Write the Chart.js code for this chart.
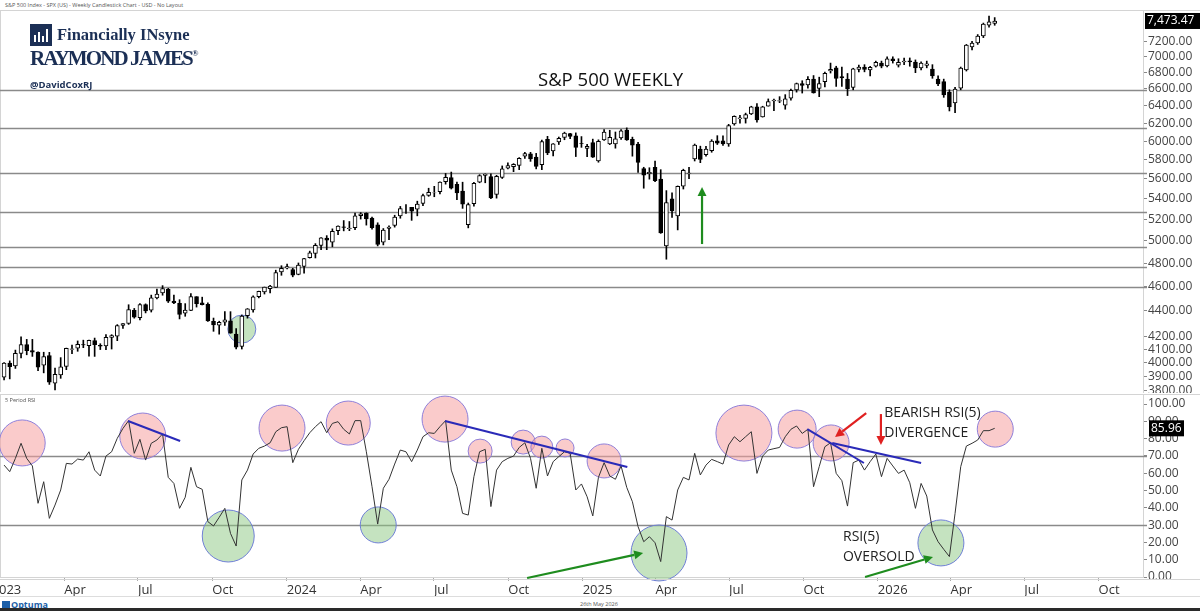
<!DOCTYPE html>
<html lang="en">
<head>
<meta charset="UTF-8">
<title>S&amp;P 500 Weekly</title>
<script src="https://cdn.jsdelivr.net/npm/chart.js"></script>
<style>
  body { margin: 0; width: 1200px; height: 611px; position: relative; overflow: hidden; background: #fff; font-family: "Open Sans", sans-serif; }
  #priceWrap { position: absolute; left: 0; top: 0; width: 1200px; height: 393px; }
  #rsiWrap { position: absolute; left: 0; top: 393px; width: 1200px; height: 203px; }
  .hdr { position: absolute; left: 5px; top: 1px; font-size: 5.5px; color: #555; white-space: nowrap; }
  .logo { position: absolute; left: 30px; top: 24px; color: #1b2f55; }
  .logo .fi { position: absolute; left: 27px; top: 1px; font: bold 16.5px "Liberation Serif", serif; white-space: nowrap; }
  .logo .rj { position: absolute; left: 0; top: 22px; font: bold 21px "Liberation Serif", serif; letter-spacing: -1.9px; white-space: nowrap; }
  .logo .rj sup { font-size: 9px; letter-spacing: 0; vertical-align: 9px; }
  .logo .tw { position: absolute; left: 0; top: 54px; font: bold 9.5px "Open Sans", sans-serif; white-space: nowrap; }
  .title { position: absolute; left: 538px; top: 66px; font-size: 18.5px; color: #111; white-space: nowrap; }
  .panelTag { position: absolute; left: 5px; top: 396px; font-size: 5.5px; color: #555; }
  .footer { position: absolute; left: 0; top: 596px; width: 1200px; height: 11px; border-top: 1px solid #ddd; }
  .optuma { position: absolute; left: 2px; top: 1px; font: bold 9px "Open Sans", sans-serif; color: #1d5fa8; white-space: nowrap; }
  .optuma span { display: inline-block; width: 8px; height: 8px; background: #1d5fa8; margin-right: 1px; vertical-align: -1px; }
  .date { position: absolute; left: 580px; top: 3px; font-size: 5.5px; color: #555; }
  .bottomBar { position: absolute; left: 0; top: 608px; width: 1200px; height: 3px; background: #2a2a2a; }
</style>
</head>
<body>
<div class="hdr">S&amp;P 500 Index - SPX (US) - Weekly Candlestick Chart - USD - No Layout</div>
<div id="priceWrap"><canvas id="price"></canvas></div>
<div id="rsiWrap"><canvas id="rsi"></canvas></div>

<div class="logo">
  <svg width="22" height="22" style="position:absolute;left:0;top:0">
    <rect width="22" height="22" fill="#1b2f55"/>
    <rect x="4" y="11" width="2" height="7" fill="#fff"/>
    <rect x="8" y="8" width="2" height="10" fill="#fff"/>
    <rect x="12" y="12" width="2" height="6" fill="#fff"/>
    <rect x="16" y="5" width="2" height="13" fill="#fff"/>
  </svg>
  <div class="fi">Financially INsyne</div>
  <div class="rj">RAYMOND JAMES<sup>®</sup></div>
  <div class="tw">@DavidCoxRJ</div>
</div>
<div class="title">S&amp;P 500 WEEKLY</div>
<div class="panelTag">5 Period RSI</div>
<div class="footer">
  <div class="optuma"><span></span>Optuma</div>
  <div class="date">26th May 2026</div>
</div>
<div class="bottomBar"></div>

<script>
// weekly candles, first one is the week ending 13 Jan 2023
const firstWeek = '2023-01-13';

const opens = [
  3897,3999,3979,4071,4137,4091,4080,3983,4055,3855,
  3914,3975,4100,4110,4136,4128,4166,4130,4126,4190,
  4200,4283,4300,4404,4345,4450,4405,4505,4547,4578,
  4479,4460,4380,4403,4515,4464,4453,4316,4285,4310,
  4320,4217,4122,4361,4406,4515,4555,4581,4593,4725,
  4758,4745,4703,4772,4848,4886,4958,5026,4989,5094,
  5130,5112,5123,5235,5258,5212,5149,4988,5115,5142,
  5233,5305,5315,5297,5353,5432,5459,5471,5572,5614,
  5544,5476,5151,5351,5566,5636,5623,5442,5615,5711,
  5727,5738,5838,5863,5827,5746,6020,5893,5992,6040,
  6082,6058,5974,5920,5983,5788,6014,5969,5970,6036,
  6122,6020,5968,5705,5653,5718,5597,4953,5400,5233,
  5525,5655,5807,5914,5854,5897,6004,6004,5970,6193,
  6250,6255,6306,6389,6271,6397,6458,6455,6407,6490,
  6590,6664,6648,6722,6606,6690,6820,6860,6750,6720,
  6620,6840,6870,6835,6880,6921,6885,6975,6895,6935,
  6950,6934,6858,6890,6845,6721,6690,6564,6433,6611,
  6833,7127,7179,7271,7418,7440
];
const highs = [
  4003,4015,4095,4195,4176,4176,4082,4079,4078,3962,
  4039,4110,4133,4164,4170,4170,4186,4143,4212,4212,
  4290,4299,4449,4419,4458,4456,4528,4578,4607,4584,
  4528,4490,4458,4541,4515,4511,4465,4342,4317,4393,
  4393,4259,4366,4418,4521,4561,4595,4610,4739,4778,
  4793,4755,4802,4842,4907,4975,5030,5048,5111,5140,
  5189,5180,5261,5265,5263,5222,5168,5114,5139,5240,
  5325,5342,5315,5376,5447,5505,5524,5570,5656,5670,
  5566,5566,5358,5564,5643,5651,5651,5636,5734,5767,
  5758,5822,5878,5878,5867,6012,6053,5972,6045,6099,
  6085,6091,6050,5964,6022,6014,6128,6120,6101,6128,
  6147,6044,5986,5720,5715,5786,5695,5481,5459,5528,
  5700,5720,5968,5945,5944,6016,6060,6059,6187,6284,
  6290,6315,6395,6427,6395,6481,6478,6508,6532,6600,
  6672,6700,6750,6764,6744,6808,6920,6880,6870,6790,
  6855,6895,6900,6880,6945,6945,7000,7000,6975,6985,
  6985,6960,6935,6945,6900,6760,6720,6590,6620,6870,
  7160,7200,7290,7445,7540,7520
];
const lows = [
  3877,3885,3960,4037,4060,4048,3943,3928,3846,3808,
  3889,3951,4069,4086,4113,4049,4048,4099,4098,4103,
  4166,4261,4292,4341,4328,4383,4390,4497,4527,4467,
  4458,4335,4356,4401,4430,4447,4316,4238,4216,4284,
  4223,4104,4103,4341,4389,4505,4537,4546,4593,4695,
  4751,4682,4699,4714,4845,4846,4920,4920,4946,5057,
  5092,5094,5104,5203,5146,5107,4954,4963,5012,5127,
  5211,5257,5191,5234,5331,5424,5420,5448,5546,5497,
  5390,5306,5120,5327,5560,5560,5402,5406,5604,5703,
  5674,5695,5813,5782,5703,5696,5853,5839,5963,6015,
  6026,5833,5932,5833,5823,5773,6007,5962,5923,6020,
  6008,5837,5666,5505,5597,5572,5069,4835,5220,5101,
  5497,5603,5786,5768,5836,5879,5963,5953,5943,6177,
  6201,6201,6298,6212,6269,6396,6343,6437,6360,6467,
  6562,6551,6609,6550,6508,6624,6795,6631,6630,6521,
  6590,6810,6810,6760,6870,6860,6870,6920,6870,6900,
  6880,6800,6835,6860,6730,6640,6500,6340,6320,6590,
  6820,7090,7160,7250,7390,7415
];
const closes = [
  3999,3972,4071,4136,4090,4079,3970,4046,3862,3917,
  3971,4109,4105,4138,4133,4169,4136,4124,4192,4205,
  4282,4299,4410,4348,4450,4399,4505,4536,4582,4478,
  4464,4370,4406,4516,4457,4450,4320,4288,4308,4327,
  4224,4117,4358,4415,4514,4559,4595,4604,4719,4755,
  4770,4697,4784,4840,4891,4959,5027,5006,5089,5137,
  5124,5117,5234,5254,5204,5123,4967,5100,5128,5223,
  5303,5305,5278,5347,5431,5465,5460,5567,5615,5505,
  5459,5346,5344,5554,5634,5648,5408,5626,5703,5738,
  5751,5815,5864,5808,5729,5996,5871,5969,6032,6090,
  6051,5931,5971,5942,5827,5997,6101,6041,6026,6115,
  6013,5955,5770,5639,5667,5581,5074,5363,5283,5525,
  5687,5660,5958,5803,5912,6000,5977,5968,6173,6279,
  6260,6297,6389,6238,6389,6450,6467,6460,6482,6584,
  6664,6644,6716,6553,6664,6792,6840,6729,6734,6603,
  6849,6870,6840,6865,6930,6880,6975,6950,6930,6945,
  6935,6858,6921,6910,6758,6660,6528,6386,6600,6858,
  7152,7179,7271,7432,7462,7473.47
];
const rsi5 = [
  64.7,60.9,68.6,77.3,68.6,64.2,42.6,55.1,33.9,41.6,
  50.3,65.7,65.3,68.2,67.6,72.4,61.8,58.4,69.9,72.4,
  80.2,85.9,90.4,71.5,79.6,67.6,77.3,79.2,82.7,57.6,
  54.1,39.7,46.1,63.4,52.2,50.7,32.0,29.5,34.5,39.7,
  25.2,17.9,56.1,61.8,71.1,74.4,75.7,77.6,84.0,86.3,
  86.9,66.1,73.8,78.8,83.4,86.9,89.8,83.4,88.8,89.8,
  85.4,82.7,90.4,90.4,72.4,52.2,30.6,51.3,56.5,65.3,
  73.4,72.4,66.7,73.4,81.1,83.4,83.0,86.9,90.4,61.8,
  52.2,36.8,35.8,58.0,72.4,73.8,40.7,61.8,66.7,68.6,
  69.9,74.9,77.6,68.6,51.3,74.4,58.4,66.7,69.6,72.4,
  71.5,50.3,53.8,46.4,35.3,57.6,66.1,58.4,56.5,64.2,
  51.8,43.5,29.1,20.4,23.3,19.8,8.9,34.9,32.9,50.3,
  57.6,56.1,71.5,59.0,64.7,68.0,66.7,65.3,76.3,81.1,
  78.2,81.1,84.0,59.9,69.9,73.4,74.2,74.9,81.1,85.4,
  87.3,83.0,85.4,52.2,63.8,75.3,77.6,59.9,55.7,41.0,
  66.1,67.6,61.8,66.7,71.1,58.0,68.6,64.2,59.9,61.8,
  54.5,39.7,54.1,46.8,27.2,20.4,16.0,11.8,36.8,63.8,
  75.7,77.3,79.2,84.6,84.6,85.96
];

const priceTicks = [7200,7000,6800,6600,6400,6200,6000,5800,5600,5400,5200,5000,4800,4600,4400,4200,4100,4000,3900,3800];
const rsiTicks = [0,10,20,30,40,50,60,70,80,90,100];
const supportLevels = [6590, 6145, 5660, 5270, 4945, 4766, 4595];
const rsiBands = [70, 30];
const axisMonths = ['2023-01-01','2023-04-01','2023-07-01','2023-10-01',
  '2024-01-01','2024-04-01','2024-07-01','2024-10-01',
  '2025-01-01','2025-04-01','2025-07-01','2025-10-01',
  '2026-01-01','2026-04-01','2026-07-01','2026-10-01'];
const monthNames = { '01': null, '04': 'Apr', '07': 'Jul', '10': 'Oct' };

// annotations, in week index / value units
const priceCircles = [[42.0, 4255, 14, 'g']];
const priceArrows = [[123.3, 4971, 123.3, 5517, '#1e8c1e']];
const rsiCircles = [
  [3.2,77.5,23,'p'],[24.5,81.5,23,'p'],[49.1,86.1,23,'p'],[60.8,89.0,22,'p'],[77.9,91.3,23,'p'],
  [84.1,72.8,12,'p'],[91.7,78.0,12,'p'],[95.0,75.1,11,'p'],[99.1,74.6,9,'p'],[106.0,67.1,17,'p'],
  [130.7,83.2,28,'p'],[140.1,85.5,19,'p'],[146.1,77.5,18,'p'],[175.1,85.5,18,'p'],
  [39.6,23.7,26,'g'],[66.1,30.1,18,'g'],[115.7,13.9,28,'g'],[165.5,19.7,23,'g']
];
const rsiTrendLines = [[21.9,90.2,31.1,78.6],[77.9,90.2,110.1,63.6],[141.9,85.5,151.9,65.9],[146.3,77.5,162.0,65.9]];
const rsiArrows = [
  [92.4,-0.6,112.9,13.9,'#1e8c1e'],
  [152.1,0,164.1,11.6,'#1e8c1e'],
  [152.3,94.8,146.8,80.9,'#e02020'],
  [154.9,94.2,154.9,76.3,'#e02020']
];
const rsiTexts = [
  [155.5,94.8,'BEARISH RSI(5)'],[155.5,83.2,'DIVERGENCE'],
  [148.2,23.1,'RSI(5)'],[148.2,11.6,'OVERSOLD']
];

const xMin = -0.72, xMax = 201.2;
const weekMs = 7 * 864e5;
function weekIndex(d) {
  return (Date.parse(d) - Date.parse(firstWeek)) / weekMs - 0.5;
}

const fills = { p: 'rgba(246,160,160,0.55)', g: 'rgba(140,200,130,0.5)' };

function arrow(ctx, x1, y1, x2, y2, color) {
  const ang = Math.atan2(y2 - y1, x2 - x1);
  const hl = 9, hw = 4.5;
  const bx = x2 - Math.cos(ang) * hl, by = y2 - Math.sin(ang) * hl;
  ctx.strokeStyle = color;
  ctx.fillStyle = color;
  ctx.lineWidth = 2.2;
  ctx.beginPath();
  ctx.moveTo(x1, y1);
  ctx.lineTo(bx, by);
  ctx.stroke();
  ctx.beginPath();
  ctx.moveTo(x2, y2);
  ctx.lineTo(bx + Math.sin(ang) * hw, by - Math.cos(ang) * hw);
  ctx.lineTo(bx - Math.sin(ang) * hw, by + Math.cos(ang) * hw);
  ctx.closePath();
  ctx.fill();
}

function makeNotes(spec) {
  return {
    id: 'notes',
    beforeDatasetsDraw(chart) {
      const ctx = chart.ctx, a = chart.chartArea, x = chart.scales.x, y = chart.scales.y;
      ctx.save();
      ctx.strokeStyle = '#d4d4d4';
      ctx.lineWidth = 1;
      ctx.beginPath();
      ctx.moveTo(0, a.top + 0.5);
      ctx.lineTo(chart.width, a.top + 0.5);
      ctx.moveTo(0.5, a.top);
      ctx.lineTo(0.5, a.bottom);
      ctx.stroke();
      ctx.strokeStyle = '#8a8a8a';
      ctx.lineWidth = 1.3;
      spec.levels.forEach(v => {
        const py = Math.round(y.getPixelForValue(v)) + 0.5;
        ctx.beginPath();
        ctx.moveTo(a.left, py);
        ctx.lineTo(a.right + 4, py);
        ctx.stroke();
      });
      ctx.lineWidth = 1;
      spec.circles.forEach(c => {
        ctx.beginPath();
        ctx.arc(x.getPixelForValue(c[0]), y.getPixelForValue(c[1]), c[2], 0, Math.PI * 2);
        ctx.fillStyle = fills[c[3]];
        ctx.fill();
        ctx.strokeStyle = c[3] === 'p' ? '#8f7fd9' : '#6f7fd6';
        ctx.stroke();
      });
      ctx.restore();
    },
    afterDatasetsDraw(chart) {
      const ctx = chart.ctx, x = chart.scales.x, y = chart.scales.y;
      ctx.save();
      ctx.strokeStyle = '#2a2ab8';
      ctx.lineWidth = 2;
      spec.lines.forEach(l => {
        ctx.beginPath();
        ctx.moveTo(x.getPixelForValue(l[0]), y.getPixelForValue(l[1]));
        ctx.lineTo(x.getPixelForValue(l[2]), y.getPixelForValue(l[3]));
        ctx.stroke();
      });
      spec.arrows.forEach(l => {
        arrow(ctx, x.getPixelForValue(l[0]), y.getPixelForValue(l[1]),
          x.getPixelForValue(l[2]), y.getPixelForValue(l[3]), l[4]);
      });
      ctx.fillStyle = '#222';
      ctx.font = '14px "Open Sans"';
      ctx.textBaseline = 'middle';
      spec.texts.forEach(t => {
        ctx.fillText(t[2], x.getPixelForValue(t[0]), y.getPixelForValue(t[1]));
      });
      ctx.restore();
    },
    afterDraw(chart) {
      const ctx = chart.ctx, a = chart.chartArea, y = chart.scales.y;
      ctx.save();
      if (spec.ownLabels) {
        // the log axis skips one of its labels in this build, so its tick labels are written here
        ctx.fillStyle = '#444';
        ctx.font = '12px "Open Sans"';
        ctx.textBaseline = 'middle';
        y.ticks.forEach(t => {
          ctx.fillText(Number(t.value).toFixed(2), a.right + 5, y.getPixelForValue(t.value));
        });
      }
      if (spec.coverBottom) {
        ctx.fillStyle = '#fff';
        ctx.fillRect(a.right + 1, a.bottom + 2, chart.width - a.right, chart.height - a.bottom);
        ctx.strokeStyle = '#d4d4d4';
        ctx.lineWidth = 1;
        ctx.beginPath();
        ctx.moveTo(0, a.bottom + 2.5);
        ctx.lineTo(chart.width, a.bottom + 2.5);
        ctx.stroke();
      }
      const py = y.getPixelForValue(spec.last);
      ctx.fillStyle = '#000';
      ctx.fillRect(spec.boxX, py - 8, spec.boxW, 16);
      ctx.fillStyle = '#fff';
      ctx.font = '12px "Open Sans"';
      ctx.textBaseline = 'middle';
      ctx.fillText(spec.boxText, spec.boxX + 2, py);
      ctx.restore();
    }
  };
}

const axisFont = { family: 'Open Sans', size: 12 };

// price panel
const bodies = closes.map((c, i) => ({ x: i, y: [opens[i], c] }));
const wicks = closes.map((c, i) => ({ x: i, y: [lows[i], highs[i]] }));
const lastClose = closes[closes.length - 1];

new Chart(document.getElementById('price'), {
  type: 'bar',
  data: {
    datasets: [
      {
        data: bodies, order: 0, barThickness: 4, grouped: false,
        backgroundColor: closes.map((c, i) => c >= opens[i] ? '#fff' : '#000'),
        borderColor: '#000', borderWidth: 1, borderSkipped: false
      },
      { data: wicks, order: 1, barThickness: 1, grouped: false, backgroundColor: '#000', borderWidth: 0 }
    ]
  },
  options: {
    responsive: true, maintainAspectRatio: false, animation: false, events: [],
    layout: { padding: { top: 10, bottom: 1, left: 0, right: 0 } },
    plugins: { legend: { display: false }, tooltip: { enabled: false } },
    scales: {
      x: { type: 'linear', display: false, min: xMin, max: xMax, offset: false },
      y: {
        type: 'logarithmic', position: 'right', min: 3793, max: 7625,
        afterBuildTicks: s => { s.ticks = priceTicks.map(v => ({ value: v })); },
        afterFit: s => { s.width = 57; s.paddingTop = 0; s.paddingBottom = 0; },
        ticks: { display: false, autoSkip: false },
        grid: { drawOnChartArea: false, tickLength: 4, color: '#888' },
        border: { color: '#d4d4d4' }
      }
    }
  },
  plugins: [makeNotes({
    levels: supportLevels, circles: priceCircles, lines: [], arrows: priceArrows, texts: [],
    ownLabels: true, last: lastClose, boxX: 1145, boxW: 55,
    boxText: lastClose.toLocaleString('en-US', { minimumFractionDigits: 2 })
  })]
});

// RSI panel
const lastRsi = rsi5[rsi5.length - 1];

new Chart(document.getElementById('rsi'), {
  type: 'line',
  data: {
    datasets: [{
      data: rsi5.map((v, i) => ({ x: i, y: v })),
      borderColor: '#333', borderWidth: 1, pointRadius: 0, tension: 0
    }]
  },
  options: {
    responsive: true, maintainAspectRatio: false, animation: false, events: [],
    layout: { padding: { top: 1, bottom: 0, left: 0, right: 0 } },
    plugins: { legend: { display: false }, tooltip: { enabled: false } },
    scales: {
      x: {
        type: 'linear', min: xMin, max: xMax, offset: false,
        afterBuildTicks: s => { s.ticks = axisMonths.map(d => ({ value: weekIndex(d) })); },
        afterFit: s => { s.height = 19; s.paddingLeft = 0; s.paddingRight = 0; },
        ticks: {
          autoSkip: false, maxRotation: 0, align: 'start', padding: 1,
          callback: (v, i) => monthNames[axisMonths[i].slice(5, 7)] || axisMonths[i].slice(0, 4),
          font: { family: 'Open Sans', size: 13 }, color: '#333'
        },
        grid: { drawOnChartArea: false, tickLength: 4, color: '#aaa' },
        border: { color: '#d4d4d4' }
      },
      y: {
        type: 'linear', position: 'right', min: 0, max: 105.8,
        afterBuildTicks: s => { s.ticks = rsiTicks.map(v => ({ value: v })); },
        afterFit: s => { s.width = 57; s.paddingTop = 0; s.paddingBottom = 0; },
        ticks: { autoSkip: false, callback: v => Number(v).toFixed(2), font: axisFont, color: '#444', padding: 1 },
        grid: { drawOnChartArea: false, tickLength: 4, color: '#888' },
        border: { color: '#d4d4d4' }
      }
    }
  },
  plugins: [makeNotes({
    levels: rsiBands, circles: rsiCircles, lines: rsiTrendLines, arrows: rsiArrows, texts: rsiTexts,
    last: lastRsi, boxX: 1149, boxW: 35, boxText: lastRsi.toFixed(2), coverBottom: true
  })]
});
</script>
</body>
</html>
